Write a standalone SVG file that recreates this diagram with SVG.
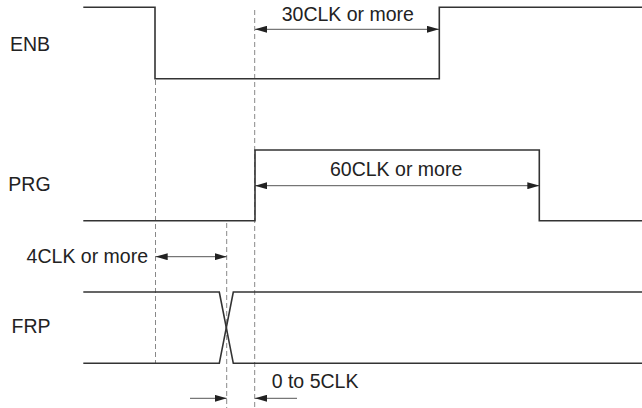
<svg xmlns="http://www.w3.org/2000/svg" width="642" height="408" viewBox="0 0 642 408">
<style>
.sig{fill:none;stroke:#333;stroke-width:1.6}
.dash{fill:none;stroke:#888;stroke-width:1;stroke-dasharray:5,3}
.arr{fill:none;stroke:#555;stroke-width:1}
.t{font-family:"Liberation Sans",Arial,sans-serif;font-size:19.5px;fill:#222}
</style>
<defs>
<marker id="ah" markerWidth="12" markerHeight="7" refX="12" refY="3.5" orient="auto-start-reverse" markerUnits="userSpaceOnUse">
<path d="M0,0 L12,3.5 L0,7 Z" fill="#222"/>
</marker>
</defs>
<rect width="642" height="408" fill="#fff"/>
<g id="connectors">
<line class="dash" x1="155.5" y1="80" x2="155.5" y2="364"/>
<line class="dash" x1="254.7" y1="10" x2="254.7" y2="408"/>
<line class="dash" x1="226.7" y1="223" x2="226.7" y2="408"/>
<line class="arr" x1="255" y1="29.3" x2="439" y2="29.3" marker-start="url(#ah)" marker-end="url(#ah)"/>
<line class="arr" x1="255" y1="185.7" x2="539.3" y2="185.7" marker-start="url(#ah)" marker-end="url(#ah)"/>
<line class="arr" x1="155.7" y1="256.7" x2="226.7" y2="256.7" marker-start="url(#ah)" marker-end="url(#ah)"/>
<line class="arr" x1="190" y1="398.3" x2="226.7" y2="398.3" marker-end="url(#ah)"/>
<line class="arr" x1="297" y1="398.3" x2="255" y2="398.3" marker-end="url(#ah)"/>
</g>
<g id="ENB">
<text class="t" x="10" y="50.7">ENB</text>
<polyline class="sig" points="83.3,7.3 155,7.3 155,78.7 439.3,78.7 439.3,7.3 642,7.3"/>
</g>
<g id="PRG">
<text class="t" x="8.3" y="190.7">PRG</text>
<polyline class="sig" points="83.3,220.7 255,220.7 255,150 539.3,150 539.3,220.7 642,220.7"/>
</g>
<g id="FRP">
<text class="t" x="11.5" y="333.3">FRP</text>
<polyline class="sig" points="83.3,292 219.3,292 233.3,363.3 642,363.3"/>
<polyline class="sig" points="83.3,363.3 219.3,363.3 233.3,292 642,292"/>
</g>
<g id="labels">
<text class="t" x="281.7" y="21">30CLK or more</text>
<text class="t" x="330" y="175.5">60CLK or more</text>
<text class="t" x="148" y="263.3" text-anchor="end">4CLK or more</text>
<text class="t" x="271.7" y="388.3">0 to 5CLK</text>
</g>
</svg>
